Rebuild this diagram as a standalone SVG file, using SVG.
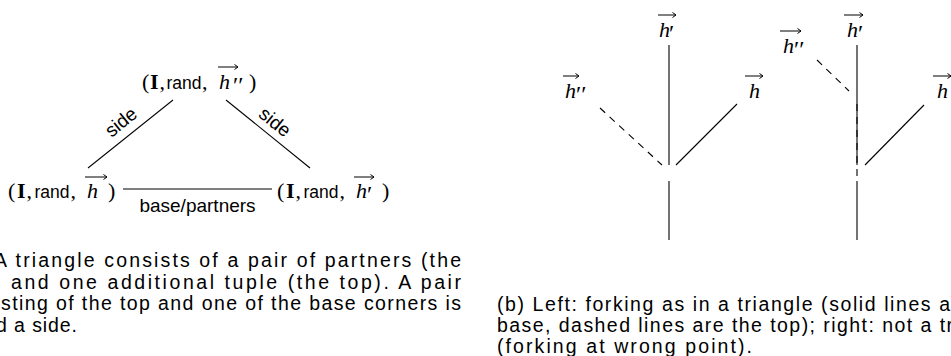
<svg xmlns="http://www.w3.org/2000/svg" width="951" height="356" viewBox="0 0 951 356">
<style>
.s{font-family:"Liberation Serif",serif;font-size:22px;fill:#000}
.b{font-family:"Liberation Serif",serif;font-size:22px;font-weight:bold;fill:#000}
.i{font-family:"Liberation Serif",serif;font-size:22px;font-style:italic;fill:#000}
.p{font-family:"Liberation Serif","DejaVu Serif",serif;font-size:24px;fill:#000}
.sf{font-family:"Liberation Sans",sans-serif;font-size:17.5px;fill:#000}
.lb{font-family:"Liberation Sans",sans-serif;font-size:19px;fill:#000}
.cap{font-family:"Liberation Sans",sans-serif;font-size:19.5px;fill:#000}
.e{stroke:#000;stroke-width:1.1;fill:none}
.d{stroke:#000;stroke-width:1.1;fill:none;stroke-dasharray:7 6}
.v{stroke:#000;stroke-width:1;fill:none}
</style>

<!-- (a) triangle -->
<g id="node-top">
<text class="s" x="142" y="89">(</text>
<text class="b" x="150" y="89">I</text>
<text class="s" x="159.5" y="89">,</text>
<text class="sf" x="166.5" y="89">rand</text>
<text class="s" x="202" y="89">,</text>
<text class="i" x="219" y="89">h</text>
<path class="v" d="M218 67H238M234.5 64.5L238 67L234.5 69.5"/>
<text class="p" x="233" y="93">′′</text>
<text class="s" x="249" y="89">)</text>
</g>
<g id="node-left">
<text class="s" x="8" y="198">(</text>
<text class="b" x="17" y="198">I</text>
<text class="s" x="26.5" y="198">,</text>
<text class="sf" x="34.5" y="198">rand</text>
<text class="s" x="70.5" y="198">,</text>
<text class="i" x="87" y="198">h</text>
<path class="v" d="M85 177H107M103.5 174.5L107 177L103.5 179.5"/>
<text class="s" x="108" y="198">)</text>
</g>
<g id="node-right">
<text class="s" x="277" y="198">(</text>
<text class="b" x="286" y="198">I</text>
<text class="s" x="295.5" y="198">,</text>
<text class="sf" x="303.5" y="198">rand</text>
<text class="s" x="339.5" y="198">,</text>
<text class="i" x="356" y="198">h</text>
<path class="v" d="M354 177H374M370.5 174.5L374 177L370.5 179.5"/>
<text class="p" x="367" y="202">′</text>
<text class="s" x="382" y="198">)</text>
</g>
<g id="triangle-edges">
<path class="e" d="M173 100L88 168"/>
<path class="e" d="M226 100L310 168"/>
<path class="e" d="M123 189H272"/>
<text class="lb" text-anchor="middle" transform="translate(125,127) rotate(-38.7)">side</text>
<text class="lb" text-anchor="middle" transform="translate(271,127) rotate(38.7)">side</text>
<text class="lb" x="197.5" y="212" text-anchor="middle">base/partners</text>
</g>

<!-- (b) trees -->
<g id="t1-hp">
<text class="i" x="659" y="37">h</text>
<path class="v" d="M658 15H676M672.5 12.5L676 15L672.5 17.5"/>
<text class="p" x="669" y="41">′</text>
</g>
<g id="t1-hpp">
<text class="i" x="565" y="98">h</text>
<path class="v" d="M563 76H579M575.5 73.5L579 76L575.5 78.5"/>
<text class="p" x="576" y="102">′′</text>
</g>
<g id="t1-h">
<text class="i" x="749" y="98">h</text>
<path class="v" d="M745 76H763M759.5 73.5L763 76L759.5 78.5"/>
</g>
<g id="t2-hp">
<text class="i" x="847" y="37">h</text>
<path class="v" d="M844 15H863M859.5 12.5L863 15L859.5 17.5"/>
<text class="p" x="858" y="41">′</text>
</g>
<g id="t2-hpp">
<text class="i" x="783" y="53">h</text>
<path class="v" d="M780 31H801M797.5 28.5L801 31L797.5 33.5"/>
<text class="p" x="794" y="57">′′</text>
</g>
<g id="t2-h">
<text class="i" x="937" y="98">h</text>
<path class="v" d="M933 76H951M947.5 73.5L951 76L947.5 78.5"/>
</g>

<g id="tree-connectors">
<path class="e" d="M669 45V165"/>
<path class="e" d="M669 181V240"/>
<path class="d" d="M600 108L662 165"/>
<path class="e" d="M676 165L737 104"/>
<path class="e" d="M857 45V165"/>
<path class="e" d="M857 181V240"/>
<path class="d" d="M817 60L849 91"/>
<path class="d" d="M857 104V178"/>
<path class="e" d="M865 165L924 105"/>
</g>

<!-- captions -->
<g id="caption-a">
<text class="cap" x="-6" y="267" textLength="467" lengthAdjust="spacing">A triangle consists of a pair of partners (the</text>
<text class="cap" x="-6" y="288.5" textLength="467" lengthAdjust="spacing">) and one additional tuple (the top).  A pair</text>
<text class="cap" x="1" y="310" textLength="460" lengthAdjust="spacing">sting of the top and one of the base corners is</text>
<text class="cap" x="-4" y="331.5" textLength="81" lengthAdjust="spacing">d a side.</text>
</g>
<g id="caption-b">
<text class="cap" x="497" y="311" textLength="453" lengthAdjust="spacing">(b) Left: forking as in a triangle (solid lines a</text>
<text class="cap" x="497" y="332" textLength="456" lengthAdjust="spacing">base, dashed lines are the top); right: not a tr</text>
<text class="cap" x="497" y="353" textLength="255" lengthAdjust="spacing">(forking at wrong point).</text>
</g>
</svg>
